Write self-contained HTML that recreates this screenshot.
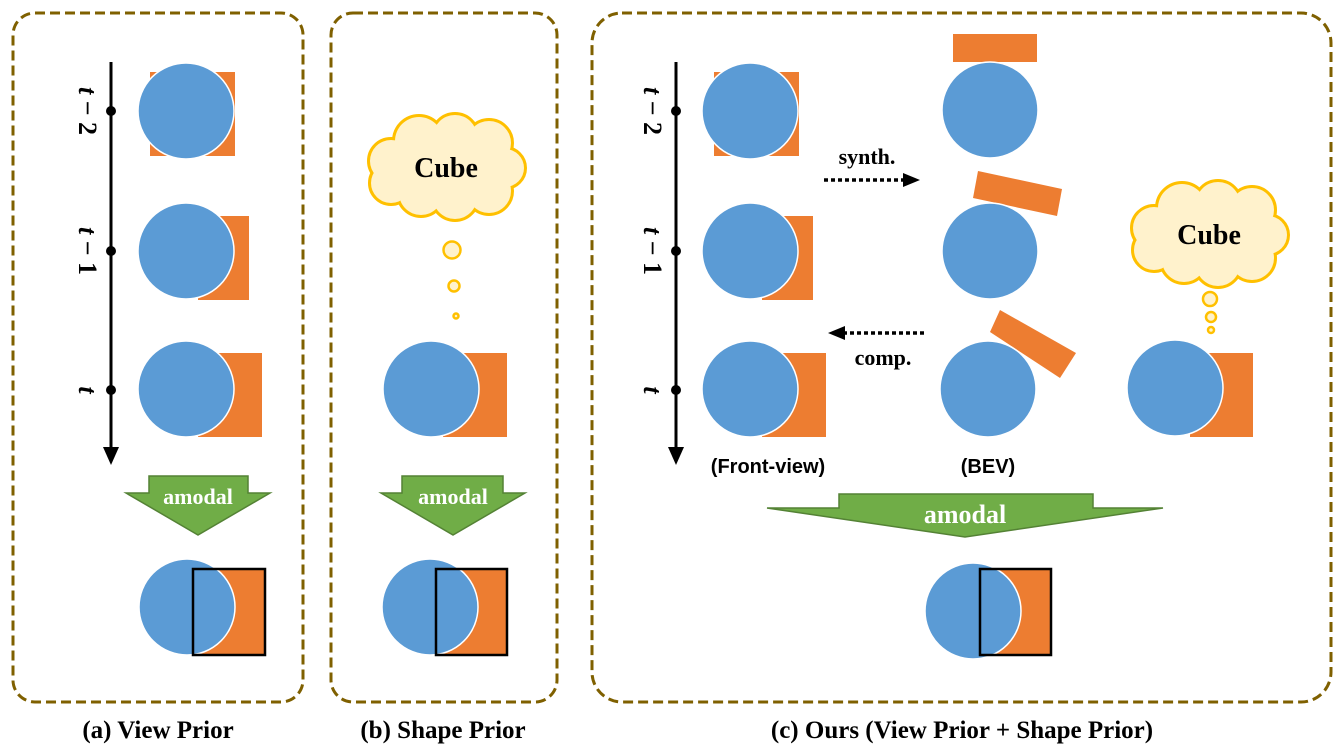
<!DOCTYPE html>
<html><head><meta charset="utf-8"><style>
html,body{margin:0;padding:0;background:#fff;}
svg{display:block;}
</style></head><body>
<svg width="1339" height="751" viewBox="0 0 1339 751" xmlns="http://www.w3.org/2000/svg">
<defs>
<g id="cloudS">
<circle cx="24" cy="48" r="21"/><circle cx="52" cy="28" r="24"/><circle cx="88" cy="24" r="22"/><circle cx="122" cy="30" r="22"/><circle cx="138" cy="55" r="19"/><circle cx="122" cy="78" r="22"/><circle cx="88" cy="84" r="22"/><circle cx="54" cy="80" r="22"/><circle cx="24" cy="70" r="20"/>
</g>
<g id="cloud">
<use href="#cloudS" fill="#FFC000" stroke="#FFC000" stroke-width="6"/>
<use href="#cloudS" fill="#FFF2CC"/>
<circle cx="80" cy="54" r="43" fill="#FFF2CC"/>
</g>
</defs>
<g fill="none" stroke="#7F6000" stroke-width="3" stroke-dasharray="10,5">
<rect x="13" y="13" width="290" height="689" rx="22"/>
<rect x="331" y="13" width="226" height="689" rx="22"/>
<rect x="592" y="13" width="739" height="689" rx="30"/>
</g>
<g fill="#ED7D31">
<rect x="150" y="72" width="85" height="84"/>
<rect x="198" y="216" width="51" height="84"/>
<rect x="198" y="353" width="64" height="84"/>
<rect x="443" y="353" width="64" height="84"/>
<rect x="714" y="72" width="85" height="84"/>
<rect x="762" y="216" width="51" height="84"/>
<rect x="762" y="353" width="64" height="84"/>
<rect x="953" y="34" width="84" height="28"/>
<polygon points="978,171 1062,189 1057,216 973,198"/>
<polygon points="1000,310 1076,353 1060,378 990,332"/>
<rect x="1190" y="353" width="63" height="84"/>
<rect x="193" y="569" width="72" height="86"/>
<rect x="436" y="569" width="71" height="86"/>
<rect x="980" y="569" width="71" height="86"/>
</g>
<g fill="#5B9BD5" stroke="#fff" stroke-width="1.5">
<circle cx="186" cy="111" r="48"/><circle cx="186" cy="251" r="48"/><circle cx="186" cy="389" r="48"/>
<circle cx="431" cy="389" r="48"/>
<circle cx="750" cy="111" r="48"/><circle cx="750" cy="251" r="48"/><circle cx="750" cy="389" r="48"/>
<circle cx="990" cy="110" r="48"/><circle cx="990" cy="251" r="48"/><circle cx="988" cy="389" r="48"/>
<circle cx="1175" cy="388" r="48"/>
<circle cx="187" cy="607" r="48"/><circle cx="430" cy="607" r="48"/><circle cx="973" cy="611" r="48"/>
</g>
<g fill="none" stroke="#000" stroke-width="2.5">
<rect x="193" y="569" width="72" height="86"/>
<rect x="436" y="569" width="71" height="86"/>
<rect x="980" y="569" width="71" height="86"/>
</g>
<g stroke="#000" stroke-width="3">
<line x1="111" y1="62" x2="111" y2="450"/>
<line x1="676" y1="62" x2="676" y2="450"/>
</g>
<g fill="#000">
<polygon points="103,447 119,447 111,465"/><polygon points="668,447 684,447 676,465"/>
<circle cx="111" cy="111" r="5"/><circle cx="111" cy="251" r="5"/><circle cx="111" cy="390" r="5"/>
<circle cx="676" cy="111" r="5"/><circle cx="676" cy="251" r="5"/><circle cx="676" cy="390" r="5"/>
</g>
<g font-family="Liberation Serif, serif" font-weight="bold" font-size="26" fill="#000">
<text transform="translate(79,111) rotate(90)" text-anchor="middle"><tspan font-style="italic">t</tspan> − 2</text>
<text transform="translate(79,251) rotate(90)" text-anchor="middle"><tspan font-style="italic">t</tspan> − 1</text>
<text transform="translate(79,390) rotate(90)" text-anchor="middle" font-style="italic">t</text>
<text transform="translate(644,111) rotate(90)" text-anchor="middle"><tspan font-style="italic">t</tspan> − 2</text>
<text transform="translate(644,251) rotate(90)" text-anchor="middle"><tspan font-style="italic">t</tspan> − 1</text>
<text transform="translate(644,390) rotate(90)" text-anchor="middle" font-style="italic">t</text>
</g>
<g transform="translate(367,113)"><use href="#cloud"/></g>
<g transform="translate(1130,180)"><use href="#cloud"/></g>
<g fill="#FFF2CC" stroke="#FFC000" stroke-width="2.5">
<circle cx="452" cy="250" r="8.5"/><circle cx="454" cy="286" r="5.5"/><circle cx="456" cy="316" r="2.5"/>
<circle cx="1210" cy="299" r="7"/><circle cx="1211" cy="317" r="5"/><circle cx="1211" cy="330" r="3"/>
</g>
<g font-family="Liberation Serif, serif" font-weight="bold" fill="#000">
<text x="446" y="177" font-size="28" text-anchor="middle">Cube</text>
<text x="1209" y="244" font-size="28" text-anchor="middle">Cube</text>
<text x="867" y="164" font-size="22" text-anchor="middle">synth.</text>
<text x="883" y="365" font-size="22" text-anchor="middle">comp.</text>
</g>
<g stroke="#000" stroke-width="3.5" stroke-dasharray="4,3">
<line x1="824" y1="180" x2="905" y2="180"/>
<line x1="924" y1="333" x2="842" y2="333"/>
</g>
<polygon points="903,173 920,180 903,187" fill="#000"/>
<polygon points="845,326 828,333 845,340" fill="#000"/>
<g font-family="Liberation Sans, sans-serif" font-weight="bold" font-size="20" fill="#000">
<text x="768" y="473" text-anchor="middle">(Front-view)</text>
<text x="988" y="473" text-anchor="middle">(BEV)</text>
</g>
<g fill="#70AD47" stroke="#548235" stroke-width="1.5">
<polygon points="149,476 248,476 248,493 270,493 198,535 126,493 149,493"/>
<polygon points="402,476 503,476 503,493 525,493 453,535 381,493 402,493"/>
<polygon points="839,494 1093,494 1093,508 1163,508 965,537 767,508 839,508"/>
</g>
<g font-family="Liberation Serif, serif" font-weight="bold" fill="#fff" text-anchor="middle">
<text x="198" y="504" font-size="22">amodal</text>
<text x="453" y="504" font-size="22">amodal</text>
<text x="965" y="523" font-size="26">amodal</text>
</g>
<g font-family="Liberation Serif, serif" font-weight="bold" font-size="25" fill="#000" text-anchor="middle">
<text x="158" y="738">(a) View Prior</text>
<text x="443" y="738">(b) Shape Prior</text>
<text x="962" y="738">(c) Ours (View Prior + Shape Prior)</text>
</g>
</svg>
</body></html>
